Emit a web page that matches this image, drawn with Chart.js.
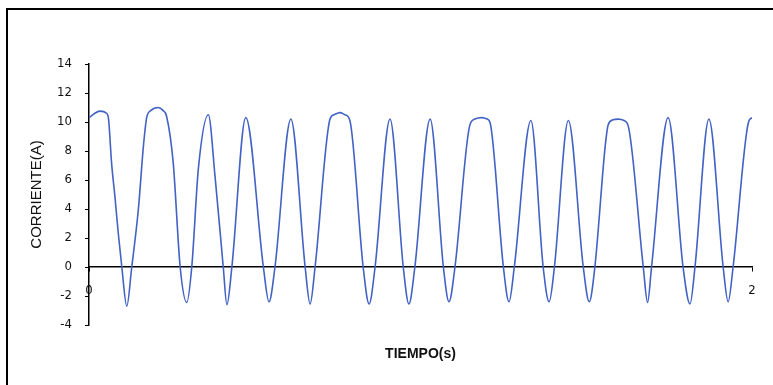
<!DOCTYPE html>
<html>
<head>
<meta charset="utf-8">
<script src="https://cdn.jsdelivr.net/npm/chart.js@4.4.1/dist/chart.umd.min.js"></script>
<style>
  html, body { margin: 0; padding: 0; background: #fff; overflow: hidden; }
  #wrap { position: relative; width: 773px; height: 385px; }
  #frame { position: absolute; left: 6px; top: 8px; width: 800px; height: 400px; border: 2px solid #000; box-sizing: border-box; }
  canvas { position: absolute; left: 0; top: 0; }
</style>
</head>
<body>
<div id="wrap">
  <div id="frame"></div>
  <canvas id="myChart" width="773" height="385"></canvas>
</div>
<script>
// tiempo (s) y corriente (A)
var tiempo = [0.000, 0.033, 0.053, 0.059, 0.068, 0.078, 0.088, 0.099, 0.114, 0.129,
  0.149, 0.164, 0.174, 0.187, 0.209, 0.223, 0.234, 0.254, 0.275, 0.295,
  0.310, 0.330, 0.360, 0.380, 0.405, 0.416, 0.431, 0.473, 0.526, 0.543,
  0.561, 0.609, 0.652, 0.667, 0.682, 0.727, 0.739, 0.757, 0.772, 0.787,
  0.827, 0.845, 0.863, 0.908, 0.948, 0.965, 0.983, 1.029, 1.069, 1.086,
  1.104, 1.149, 1.164, 1.185, 1.201, 1.210, 1.250, 1.267, 1.283, 1.333,
  1.370, 1.388, 1.404, 1.446, 1.491, 1.509, 1.526, 1.557, 1.566, 1.581,
  1.597, 1.614, 1.627, 1.672, 1.685, 1.697, 1.747, 1.792, 1.813, 1.828,
  1.870, 1.913, 1.928, 1.943, 1.989, 2.000];
var corriente = [10.3, 10.75, 10.6, 10.2, 7.2, 4.9, 2.4, 0, -2.7, 0,
  4.0, 8.3, 10.3, 10.8, 11.0, 10.8, 10.4, 7.2, 0, -2.45,
  0, 6.8, 10.5, 6.3, 0, -2.6, 0, 10.3, 0, -2.4,
  0, 10.2, 0, -2.55, 0, 10.2, 10.5, 10.65, 10.5, 10.1,
  0, -2.55, 0, 10.2, 0, -2.55, 0, 10.2, 0, -2.4,
  0, 9.8, 10.2, 10.3, 10.2, 9.95, 0, -2.4, 0, 10.1,
  0, -2.4, 0, 10.1, 0, -2.4, 0, 8.3, 9.8, 10.15,
  10.2, 10.1, 9.7, 0, -2.45, 0, 10.3, 0, -2.55, 0,
  10.2, 0, -2.4, 0, 9.95, 10.3];
var xTicks = [0, 2];
var yTicks = [-4, -2, 0, 2, 4, 6, 8, 10, 12, 14];

var narrow = "'Liberation Sans Narrow', 'DejaVu Sans Condensed', Arial, sans-serif";
var wide = "'Liberation Sans', Arial, sans-serif";

var puntos = [];
for (var i = 0; i < tiempo.length; i++) {
  puntos.push({ x: tiempo[i], y: corriente[i] });
}

var ctx = document.getElementById('myChart').getContext('2d');
var myChart = new Chart(ctx, {
  type: 'line',
  data: {
    datasets: [{
      data: puntos,
      borderColor: '#4262c4',
      borderWidth: 1.6,
      pointRadius: 0,
      fill: false,
      cubicInterpolationMode: 'monotone'
    }]
  },
  options: {
    responsive: false,
    animation: false,
    layout: { padding: { left: 20, right: 21, top: 64, bottom: 22 } },
    plugins: { legend: { display: false }, tooltip: { enabled: false } },
    scales: {
      x: {
        type: 'linear',
        min: 0, max: 2,
        position: { y: 0 },
        afterBuildTicks: function (axis) { axis.ticks = xTicks.map(function (v) { return { value: v }; }); },
        ticks: { padding: 12, color: '#111', font: { family: narrow, size: 13 } },
        grid: { drawOnChartArea: false, drawTicks: true, tickLength: 4, color: '#000' },
        border: { display: true, color: '#000', width: 1.5 }
      },
      x2: {
        type: 'linear',
        min: 0, max: 2,
        position: 'bottom',
        afterFit: function (s) { s.height = 38; },
        ticks: { display: false },
        grid: { display: false },
        border: { display: false },
        title: { display: true, text: 'TIEMPO(s)', color: '#111', padding: { top: 4, bottom: 0 },
          font: { family: wide, size: 14, weight: 'bold' } }
      },
      y: {
        min: -4, max: 14,
        afterFit: function (s) { s.width = 69; },
        afterBuildTicks: function (axis) { axis.ticks = yTicks.map(function (v) { return { value: v }; }); },
        ticks: { padding: 13, color: '#111', font: { family: narrow, size: 13 } },
        grid: { drawOnChartArea: false, drawTicks: true, tickLength: 4, color: '#000' },
        border: { display: true, color: '#000', width: 1.5 },
        title: { display: true, text: 'CORRIENTE(A)', color: '#111', padding: { top: 8, bottom: 0 },
          font: { family: wide, size: 15 } }
      }
    }
  }
});
</script>
</body>
</html>
